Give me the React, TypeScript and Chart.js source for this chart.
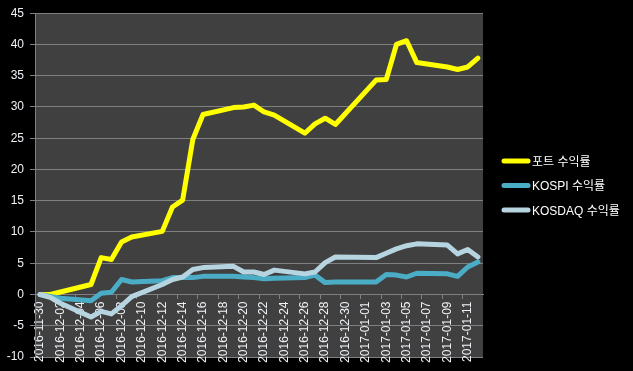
import React, { useEffect, useRef } from 'react';
import { Chart, registerables } from 'chart.js';

Chart.register(...registerables);

// Calendar dates on the axis (non-trading days have no value)
const dates: string[] = [
  '2016-11-30', '2016-12-01', '2016-12-02', '2016-12-03', '2016-12-04', '2016-12-05',
  '2016-12-06', '2016-12-07', '2016-12-08', '2016-12-09', '2016-12-10', '2016-12-11',
  '2016-12-12', '2016-12-13', '2016-12-14', '2016-12-15', '2016-12-16', '2016-12-17',
  '2016-12-18', '2016-12-19', '2016-12-20', '2016-12-21', '2016-12-22', '2016-12-23',
  '2016-12-24', '2016-12-25', '2016-12-26', '2016-12-27', '2016-12-28', '2016-12-29',
  '2016-12-30', '2016-12-31', '2017-01-01', '2017-01-02', '2017-01-03', '2017-01-04',
  '2017-01-05', '2017-01-06', '2017-01-07', '2017-01-08', '2017-01-09', '2017-01-10',
  '2017-01-11', '2017-01-12',
];

const portReturn: (number | null)[] = [
  0, 0.0, 0.4, null, null, 1.6,
  5.9, 5.6, 8.4, 9.2, null, null,
  10.1, 14.0, 15.1, 24.8, 28.8, null,
  null, 29.9, 30.0, 30.3, 29.2, 28.7,
  null, null, 25.8, 27.3, 28.2, 27.2,
  null, null, null, 34.3, 34.4, 40.0,
  40.6, 37.1, null, null, 36.4, 36.0,
  36.4, 37.8,
];

const kospiReturn: (number | null)[] = [
  0, -0.3, -0.6, null, null, -1.0,
  0.2, 0.35, 2.4, 2.0, null, null,
  2.2, 2.7, 2.7, 2.7, 2.9, null,
  null, 2.9, 2.8, 2.7, 2.5, 2.6,
  null, null, 2.7, 3.1, 1.9, 2.0,
  null, null, null, 2.0, 3.2, 3.1,
  2.8, 3.4, null, null, 3.3, 2.9,
  4.4, 5.2,
];

const kosdaqReturn: (number | null)[] = [
  0, -0.45, -1.4, null, null, -3.6,
  -2.7, -3.1, -1.8, -0.35, null, null,
  1.6, 2.4, 2.8, 4.0, 4.3, null,
  null, 4.5, 3.6, 3.6, 3.2, 3.9,
  null, null, 3.3, 3.6, 5.1, 6.0,
  null, null, null, 5.9, 6.6, 7.3,
  7.8, 8.1, null, null, 7.9, 6.5,
  7.2, 6.0,
];

const seriesNames: string[] = ['포트 수익률', 'KOSPI 수익률', 'KOSDAQ 수익률'];
const seriesColors: string[] = ['#FFFF00', '#4BACC6', '#B7D5E0'];

const yMin = -10;
const yMax = 45;
const yStep = 5;

const FONT = "'Liberation Sans', 'Noto Sans CJK KR', sans-serif";
const GRID = '#808080';
const TEXT = '#EEF2F6';

const plotBg = {
  id: 'plotBg',
  beforeDraw(chart: any) {
    const { ctx, chartArea: a } = chart;
    ctx.save();
    ctx.fillStyle = '#404040';
    ctx.fillRect(a.left, a.top, a.right - a.left, a.bottom - a.top);
    ctx.restore();
  },
};

const sideLegend = {
  id: 'sideLegend',
  afterDraw(chart: any) {
    const { ctx, chartArea: a } = chart;
    ctx.save();
    chart.data.datasets.forEach((ds: any, i: number) => {
      const y = 161 + i * 24.5;
      ctx.beginPath();
      ctx.strokeStyle = ds.borderColor;
      ctx.lineWidth = 5;
      ctx.lineCap = 'round';
      ctx.moveTo(a.right + 21, y);
      ctx.lineTo(a.right + 45, y);
      ctx.stroke();
      ctx.fillStyle = '#FFFFFF';
      ctx.font = `12px ${FONT}`;
      ctx.textBaseline = 'middle';
      ctx.textAlign = 'left';
      ctx.fillText(ds.label, a.right + 49, y + 1.5);
    });
    ctx.restore();
  },
};

export default function App() {
  const ref = useRef<HTMLCanvasElement | null>(null);

  useEffect(() => {
    if (!ref.current) return;
    const series = [portReturn, kospiReturn, kosdaqReturn];
    const chart = new Chart(ref.current, {
      type: 'line',
      data: {
        labels: dates,
        datasets: series.map((d, i) => ({
          label: seriesNames[i],
          data: d,
          borderColor: seriesColors[i],
          backgroundColor: seriesColors[i],
          borderWidth: 5,
          borderCapStyle: 'round',
          borderJoinStyle: 'round',
          pointRadius: 0,
          tension: 0,
          spanGaps: true,
          fill: false,
          order: 3 - i,
        })),
      },
      options: {
        animation: false,
        responsive: false,
        layout: { padding: { left: 0, right: 150, top: 11, bottom: 14 } },
        plugins: {
          legend: { display: false },
          tooltip: { enabled: false },
        },
        scales: {
          x: {
            type: 'category',
            position: { y: 0 } as any,
            offset: true,
            grid: {
              offset: true,
              drawOnChartArea: false,
              drawTicks: true,
              tickLength: 4,
              color: (c: any) => (c.index % 2 === 0 ? GRID : 'rgba(0,0,0,0)'),
            },
            border: { display: true, color: GRID },
            ticks: {
              autoSkip: false,
              maxRotation: 90,
              minRotation: 90,
              padding: 3,
              color: TEXT,
              font: { family: FONT, size: 12 },
              callback: (_v: any, i: number) => (i % 2 === 0 ? dates[i] : ''),
            },
          },
          y: {
            min: yMin,
            max: yMax,
            afterFit: (s: any) => {
              s.width = 35;
            },
            grid: { color: GRID, tickColor: GRID, tickLength: 5, lineWidth: 1 },
            border: { display: true, color: GRID },
            ticks: {
              stepSize: yStep,
              padding: 6,
              color: TEXT,
              font: { family: FONT, size: 12 },
            },
          },
        },
      },
      plugins: [plotBg, sideLegend],
    } as any);
    return () => chart.destroy();
  }, []);

  return (
    <div
      style={{
        position: 'fixed',
        left: 0,
        top: 0,
        width: 633,
        height: 371,
        background: '#000000',
      }}
    >
      <canvas ref={ref} width={633} height={371} style={{ display: 'block' }} />
    </div>
  );
}
